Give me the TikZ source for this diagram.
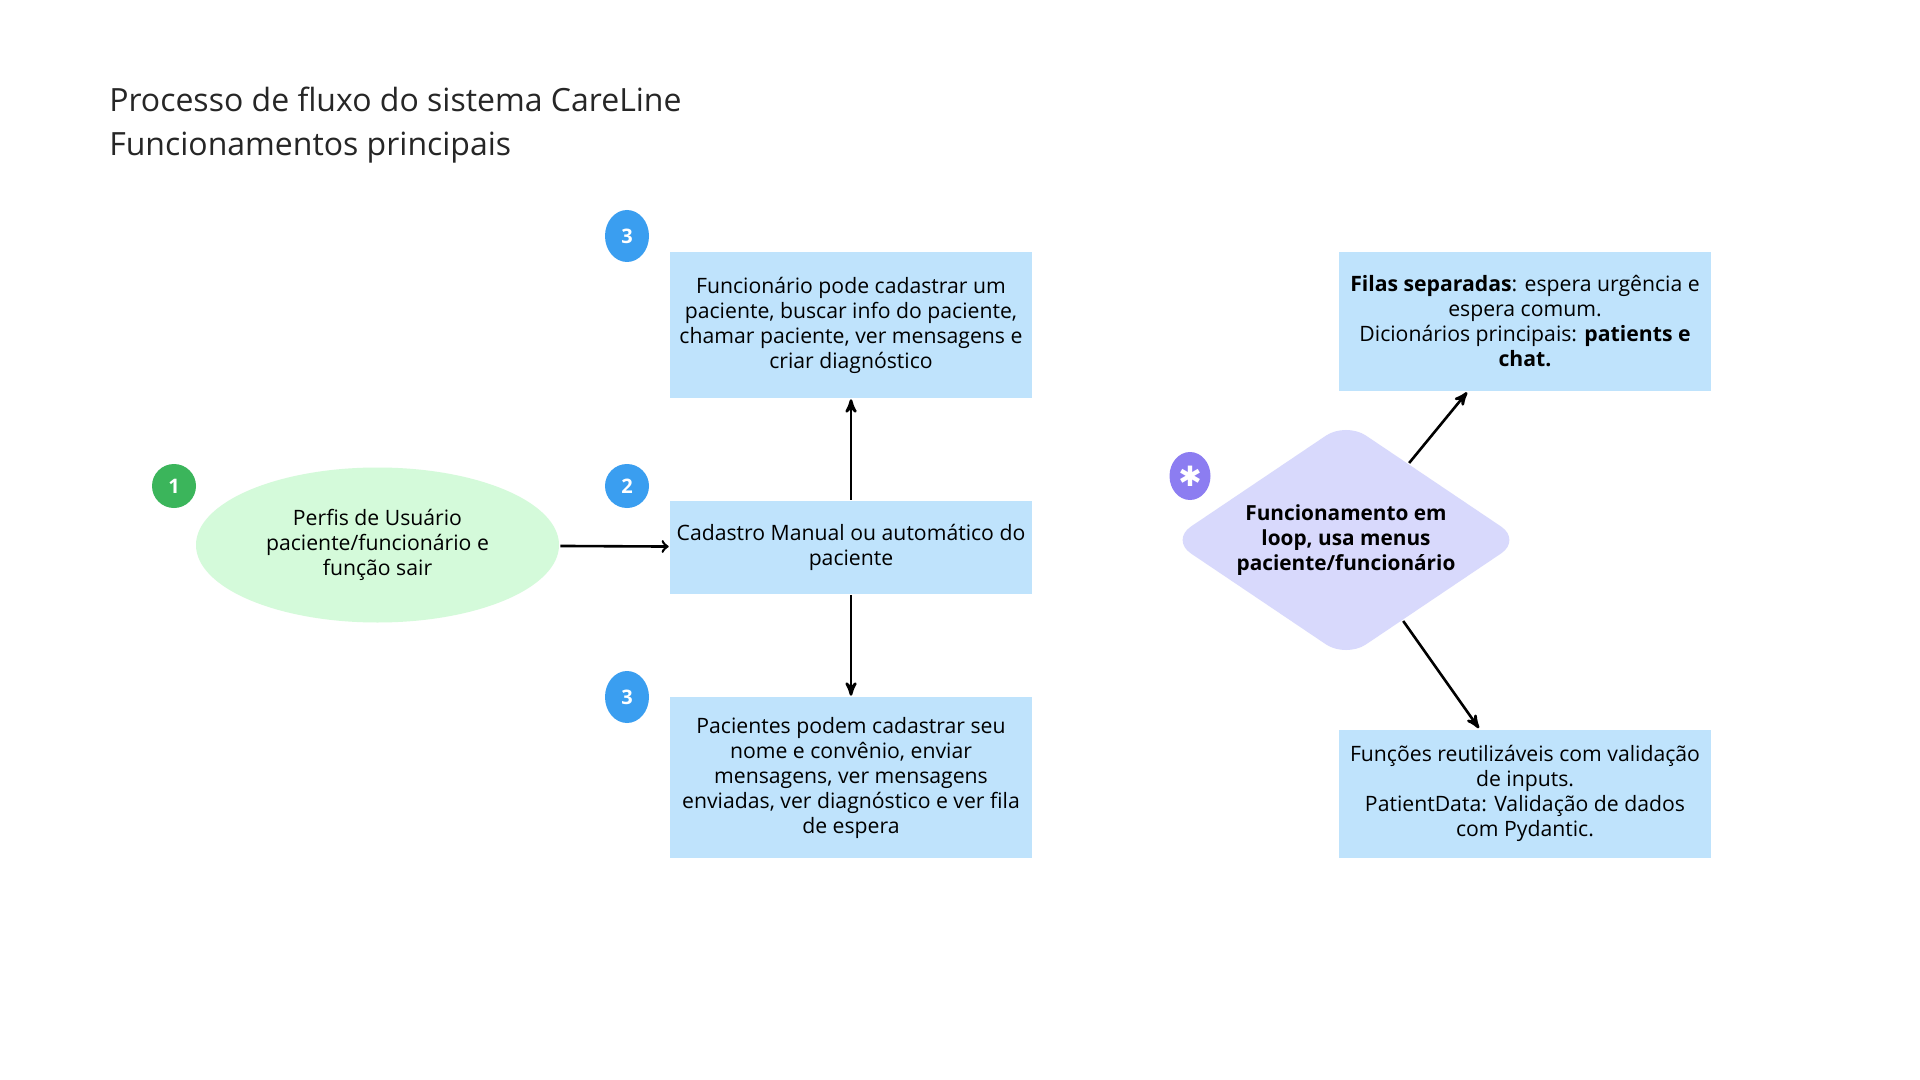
\documentclass[tikz,border=0pt]{standalone}
\usepackage{fontspec}
\setmainfont{Open Sans}
\newfontfamily\symfont{DejaVu Sans}
\usepackage{tikz}
\usetikzlibrary{arrows, positioning, shapes.geometric}
\definecolor{colorBox}{HTML}{BFE3FC}
\definecolor{colorUser}{HTML}{D4FADA}
\definecolor{colorLoop}{HTML}{D8D9FC}
\definecolor{colorStepGreen}{HTML}{3BB55B}
\definecolor{colorStepBlue}{HTML}{3A9EF0}
\definecolor{colorStar}{HTML}{8C7DF1}
\newcommand{\bodyfont}{\fontsize{10.6}{12.5}\selectfont}

\begin{document}
\begin{tikzpicture}[x=0.5pt, y=-0.5pt, >=stealth', line width=1.3pt, node distance=50.2pt,
  box/.style={fill=colorBox, minimum width=181pt, align=center, inner sep=3pt, font=\bodyfont},
  badge/.style={ellipse, fill=#1, text=white, minimum width=22pt, minimum height=22pt, inner sep=0pt, font=\bfseries\fontsize{10}{12}\selectfont}]
\useasboundingbox[fill=white] (0,0) rectangle (1920,1080);
\node[anchor=north west, align=left, inner sep=0pt, text=black!85, font=\fontsize{16}{22}\selectfont] (title) at (108,86) {Processo de fluxo do sistema CareLine\\Funcionamentos principais};
% left column
\node[ellipse, fill=colorUser, minimum width=181.5pt, minimum height=77.5pt, align=center, font=\bodyfont] (user) at (377.5,545) {Perfis de Usuário\\paciente/funcionário e\\função sair};
\node[box, minimum height=46.5pt, right=54.2pt of user, yshift=-1.25pt] (cadastro) {Cadastro Manual ou automático do\\paciente};
\node[box, minimum height=73pt, above=of cadastro] (funcionario) {Funcionário pode cadastrar um\\paciente, buscar info do paciente,\\chamar paciente, ver mensagens e\\criar diagnóstico};
\node[box, minimum height=80.5pt, below=of cadastro] (pacientes) {Pacientes podem cadastrar seu\\nome e convênio, enviar\\mensagens, ver mensagens\\enviadas, ver diagnóstico e ver fila\\de espera};
% right column
\node[diamond, fill=colorLoop, minimum width=175.6pt, minimum height=118.4pt, aspect=1.48, inner sep=0pt, rounded corners=12pt, align=center, font=\bfseries\fontsize{10.4}{12.5}\selectfont] (loop) at (1346,540) {Funcionamento em\\loop, usa menus\\paciente/funcionário};
\node[box, minimum width=186pt, minimum height=69.5pt] (filas) at (1525,321.5) {\textbf{Filas separadas}: espera urgência e\\espera comum.\\Dicionários principais: \textbf{patients e}\\\textbf{chat.}};
\node[box, minimum width=186pt, minimum height=64pt] (funcoes) at (1525,793.5) {Funções reutilizáveis com validação\\de inputs.\\PatientData: Validação de dados\\com Pydantic.};
% badges
\node[badge=colorStepGreen] (step1) at (174,486) {1};
\node[badge=colorStepBlue] (step2) at (627,486) {2};
\node[badge=colorStepBlue, minimum height=26pt] (step3a) at (627,236) {3};
\node[badge=colorStepBlue, minimum height=26pt] (step3b) at (627,697) {3};
\node[badge=colorStar, minimum width=20.5pt, minimum height=24pt, font=\fontsize{14}{14}\selectfont] (star) at (1190,476) {\symfont ✱};
% connectors
\draw [-to] (user) edge (cadastro);
\draw [->] (cadastro) edge (funcionario);
\draw [->] (cadastro) edge (pacientes);
\draw [->] (loop) edge (filas);
\draw [->] (loop) edge (funcoes);
\end{tikzpicture}
\end{document}
